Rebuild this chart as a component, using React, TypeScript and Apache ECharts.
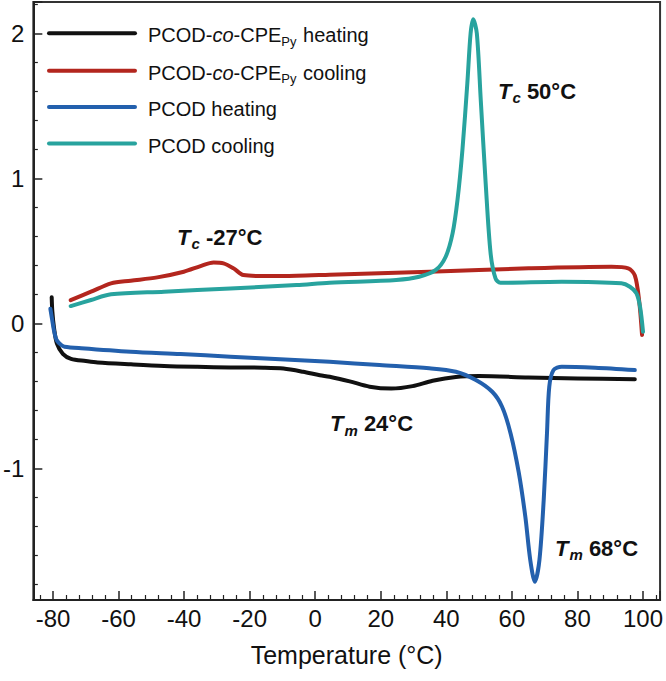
import React, { useEffect, useRef } from 'react';
import * as echarts from 'echarts';

const FONT = '"Liberation Sans", Arial, Helvetica, sans-serif';

const seriesNames = ['PCOD-co-CPEPy heating', 'PCOD-co-CPEPy cooling', 'PCOD heating', 'PCOD cooling'];
const seriesColors = ['#111111', '#b3261e', '#2360ad', '#28a39e'];

// [temperature °C, heat flow]
const copolyHeating: [number, number][] = [
  [-80.4, 0.18], [-80.2, 0.08], [-79.7, -0.03], [-78.8, -0.14], [-77.0, -0.21], [-74.5, -0.245],
  [-70, -0.26], [-66.4, -0.27], [-56.2, -0.283], [-46.1, -0.294], [-36, -0.3], [-25.9, -0.304],
  [-15.8, -0.306], [-9.7, -0.312], [-3.7, -0.334], [1.4, -0.358], [4.4, -0.368], [10.5, -0.4],
  [16.6, -0.437], [23.2, -0.45], [29.7, -0.433], [35.8, -0.396], [42.9, -0.37], [50, -0.364],
  [65, -0.373], [80, -0.38], [97.5, -0.386],
];

const copolyCooling: [number, number][] = [
  [-74.6, 0.16], [-68.4, 0.218], [-62.3, 0.276], [-56.3, 0.294], [-48.2, 0.317], [-40.1, 0.356],
  [-35, 0.395], [-31, 0.42], [-28, 0.414], [-24.9, 0.379], [-21.9, 0.333], [-15.8, 0.326],
  [-5.7, 0.328], [4.4, 0.335], [34.8, 0.356], [65.1, 0.379], [90.4, 0.39], [95.5, 0.379],
  [97.5, 0.33], [98.8, 0.16], [99.7, -0.08],
];

const pcodHeating: [number, number][] = [
  [-80.8, 0.1], [-80.3, 0.03], [-79.7, -0.05], [-78.9, -0.115], [-77.5, -0.15], [-76.5, -0.161],
  [-71.4, -0.172], [-56.3, -0.196], [-41.1, -0.212], [-25.9, -0.23], [-10.7, -0.248], [4.4, -0.265],
  [19.6, -0.288], [34.8, -0.31], [42.9, -0.334], [49, -0.391], [54, -0.472], [57, -0.575],
  [59.6, -0.759], [62.1, -1.03], [64.1, -1.334], [65.6, -1.632], [67, -1.782], [68.4, -1.632],
  [69.7, -1.219], [70.7, -0.759], [71.4, -0.437], [72.7, -0.322], [75.2, -0.299], [85.4, -0.306],
  [97.5, -0.322],
];

const pcodCooling: [number, number][] = [
  [-74.6, 0.119], [-68.4, 0.161], [-62.3, 0.2], [-46.1, 0.218], [-25.9, 0.241], [-5.7, 0.264],
  [4.4, 0.28], [24.7, 0.299], [31.7, 0.321], [36.8, 0.368], [39.8, 0.459], [41.9, 0.62],
  [43.4, 0.85], [44.9, 1.195], [46.4, 1.655], [47.4, 2.0], [48.2, 2.097], [49.3, 2.0],
  [50.5, 1.54], [52, 0.966], [53.5, 0.483], [55, 0.31], [56.5, 0.28], [75.2, 0.287],
  [93.4, 0.276], [96, 0.252], [98, 0.207], [99.1, 0.114], [100, -0.058],
];

const seriesData = [copolyHeating, copolyCooling, pcodHeating, pcodCooling];

const legendLabels = [
  '{a|PCOD-}{i|co}{a|-CPE}{s|Py}{a| heating}',
  '{a|PCOD-}{i|co}{a|-CPE}{s|Py}{a| cooling}',
  '{a|PCOD heating}',
  '{a|PCOD cooling}',
];

const annotations = [
  { text: '{t|T}{s|c}{b| 50°C}', x: 498, y: 91 },
  { text: '{t|T}{s|c}{b| -27°C}', x: 177, y: 237 },
  { text: '{t|T}{s|m}{b| 24°C}', x: 330, y: 423.5 },
  { text: '{t|T}{s|m}{b| 68°C}', x: 555, y: 548 },
];

export default function App() {
  const ref = useRef<HTMLDivElement>(null);

  useEffect(() => {
    if (!ref.current) return;
    const chart = echarts.init(ref.current, undefined, { renderer: 'svg' });

    const legendRich = {
      a: { fontSize: 20, fontFamily: FONT, fill: '#111' },
      i: { fontSize: 20, fontFamily: FONT, fontStyle: 'italic', fill: '#111' },
      s: { fontSize: 13, fontFamily: FONT, fill: '#111', padding: [12, 1, 0, 0] },
    };
    const annRich = {
      t: { fontSize: 22, fontFamily: FONT, fontWeight: 'bold', fontStyle: 'italic', fill: '#111' },
      s: { fontSize: 15, fontFamily: FONT, fontWeight: 'bold', fontStyle: 'italic', fill: '#111', padding: [13, 0, 0, 1] },
      b: { fontSize: 22, fontFamily: FONT, fontWeight: 'bold', fill: '#111' },
    };

    const legendY = [33.3, 70.7, 107, 143.5];
    const graphic: any[] = [];
    legendY.forEach((y, i) => {
      graphic.push({
        type: 'line',
        shape: { x1: 49, y1: y, x2: 135, y2: y },
        style: { stroke: seriesColors[i], lineWidth: 4, lineCap: 'round' },
        z: 10,
      });
      graphic.push({
        type: 'text',
        x: 148,
        y: y + 2,
        style: {
          text: legendLabels[i],
          rich: legendRich,
          align: 'left',
          verticalAlign: 'middle',
          textAlign: 'left',
          textVerticalAlign: 'middle',
        },
        z: 10,
      });
    });
    annotations.forEach((a) => {
      graphic.push({
        type: 'text',
        x: a.x,
        y: a.y,
        style: {
          text: a.text,
          rich: annRich,
          align: 'left',
          verticalAlign: 'middle',
          textAlign: 'left',
          textVerticalAlign: 'middle',
        },
        z: 10,
      });
    });

    const isMultiple = (v: number, step: number) => Math.abs(v - Math.round(v / step) * step) < 1e-6;

    chart.setOption({
      animation: false,
      backgroundColor: '#ffffff',
      grid: {
        left: 32, right: 4, top: 2, bottom: 81,
        show: true, borderColor: '#333', borderWidth: 2,
      },
      xAxis: {
        type: 'value',
        min: -86,
        max: 105.2,
        minInterval: 20,
        maxInterval: 20,
        name: 'Temperature (°C)',
        nameLocation: 'middle',
        nameGap: 42,
        nameTextStyle: { fontSize: 25, color: '#111', fontFamily: FONT },
        axisLine: { show: true, onZero: false, lineStyle: { color: '#222', width: 2 } },
        axisTick: { show: true, inside: true, length: 9, lineStyle: { color: '#222', width: 1.5 } },
        minorTick: { show: true, splitNumber: 5, length: 5, lineStyle: { color: '#222', width: 1.2 } },
        axisLabel: {
          fontSize: 24, color: '#111', fontFamily: FONT, margin: 6,
          formatter: (v: number) => (isMultiple(v, 20) ? String(Math.round(v)) : ''),
        },
        splitLine: { show: false },
      },
      yAxis: {
        type: 'value',
        min: -1.908,
        max: 2.216,
        minInterval: 1,
        maxInterval: 1,
        axisLine: { show: true, onZero: false, lineStyle: { color: '#222', width: 2 } },
        axisTick: { show: true, inside: true, length: 9, lineStyle: { color: '#222', width: 1.5 } },
        minorTick: { show: true, splitNumber: 5, length: 4.5, lineStyle: { color: '#222', width: 1.2 } },
        axisLabel: {
          fontSize: 24, color: '#111', fontFamily: FONT, margin: 9,
          formatter: (v: number) => (isMultiple(v, 1) ? String(Math.round(v)) : ''),
        },
        splitLine: { show: false },
      },
      series: seriesData.map((d, i) => ({
        name: seriesNames[i],
        type: 'line',
        data: d,
        showSymbol: false,
        symbol: 'none',
        smooth: 0.3,
        lineStyle: { color: seriesColors[i], width: 4, cap: 'round', join: 'round' },
        z: 2 + i,
      })),
      graphic,
    });

    return () => chart.dispose();
  }, []);

  return (
    <div
      ref={ref}
      style={{ position: 'fixed', left: 0, top: 0, width: 666, height: 681, background: '#fff' }}
    />
  );
}
